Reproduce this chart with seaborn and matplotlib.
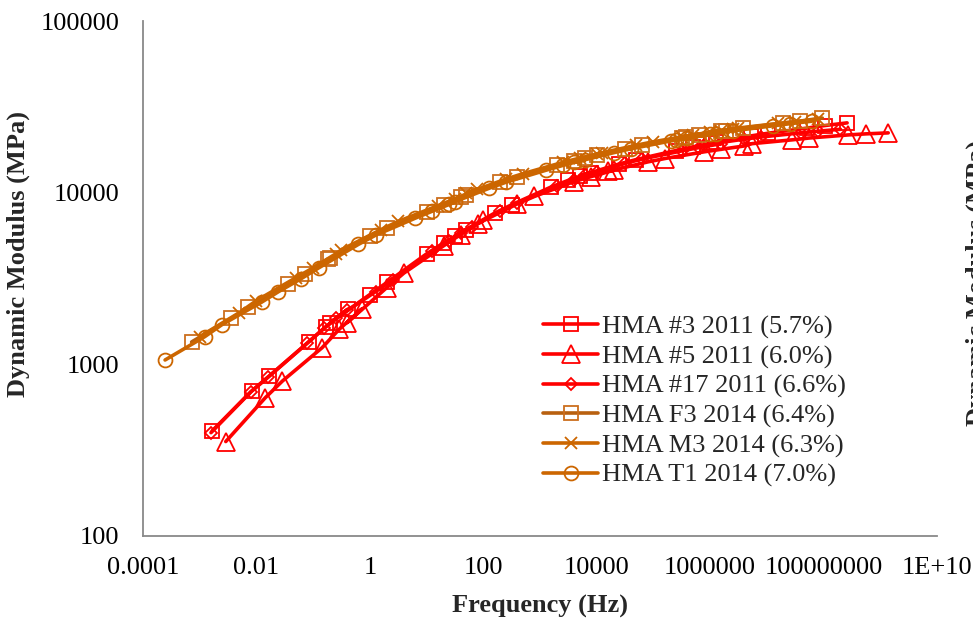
import numpy as np
import pandas as pd
import matplotlib
matplotlib.use("Agg")
import matplotlib.pyplot as plt
import seaborn as sns

# Reduced frequency (Hz) and dynamic modulus |E*| (MPa) for each mix
freq_hma3_2011 = [1.66e-3, 8.3e-3, 1.66e-2, 8.3e-2, 0.166, 0.415,
                  0.2, 1.0, 2.0, 10, 20, 50,
                  31.6, 158, 316, 1.58e3, 3.16e3, 7.9e3,
                  5.0e3, 2.5e4, 5.0e4, 2.5e5, 5.0e5, 1.25e6,
                  1.05e6, 5.2e6, 1.05e7, 5.2e7, 1.05e8, 2.6e8]
mod_hma3_2011 = [410, 700, 850, 1350, 1650, 2100,
                 1750, 2550, 3000, 4400, 5100, 6100,
                 5600, 7600, 8500, 10800, 11800, 13100,
                 12500, 14700, 15600, 17600, 18500, 19600,
                 19500, 21400, 22200, 23800, 24600, 25500]

freq_hma5_2011 = [2.88e-3, 1.44e-2, 2.88e-2, 0.144, 0.288, 0.72,
                  0.398, 1.99, 3.98, 19.9, 39.8, 99.5,
                  79.4, 397, 794, 3.97e3, 7.94e3, 1.985e4,
                  1.58e4, 7.9e4, 1.58e5, 7.9e5, 1.58e6, 3.96e6,
                  5.5e6, 2.75e7, 5.5e7, 2.75e8, 5.5e8, 1.38e9]
mod_hma5_2011 = [355, 640, 800, 1250, 1600, 2100,
                 1750, 2800, 3400, 4900, 5700, 6900,
                 6600, 8600, 9500, 11600, 12400, 13500,
                 13300, 15100, 15800, 17300, 17900, 18700,
                 19300, 20300, 20800, 21700, 22000, 22300]

freq_hma17_2011 = [1.58e-3, 7.9e-3, 1.58e-2, 7.9e-2, 0.158, 0.40,
                   0.251, 1.26, 2.51, 12.6, 25.1, 63,
                   39.8, 199, 398, 1.99e3, 3.98e3, 9.95e3,
                   6.3e3, 3.15e4, 6.3e4, 3.15e5, 6.3e5, 1.58e6,
                   7.9e5, 3.97e6, 7.9e6, 3.97e7, 7.9e7, 1.98e8]
mod_hma17_2011 = [400, 690, 840, 1330, 1630, 2080,
                  1850, 2650, 3100, 4550, 5250, 6300,
                  5850, 7800, 8700, 10900, 11900, 13200,
                  12600, 14800, 15700, 17500, 18300, 19300,
                  19000, 20500, 21100, 22300, 22800, 23400]

freq_f3_2014 = [7.2e-4, 3.6e-3, 7.2e-3, 3.6e-2, 7.2e-2, 0.18,
                0.2, 1.0, 2.0, 10, 20, 50,
                39.8, 199, 398, 1.99e3, 3.98e3, 9.95e3,
                6.3e3, 3.15e4, 6.3e4, 3.15e5, 6.3e5, 1.58e6,
                3.8e5, 1.9e6, 3.8e6, 1.9e7, 3.8e7, 9.5e7]
mod_f3_2014 = [1350, 1850, 2150, 2950, 3350, 4100,
               4150, 5600, 6200, 7700, 8500, 9700,
               9400, 11500, 12400, 14400, 15300, 16500,
               15900, 18000, 18900, 20900, 21700, 22800,
               21100, 23000, 23800, 25400, 26100, 27200]

freq_m3_2014 = [1.0e-3, 5.0e-3, 1.0e-2, 5.0e-2, 0.1, 0.25,
                0.316, 1.58, 3.16, 15.8, 31.6, 79,
                50, 250, 501, 2.5e3, 5.01e3, 1.25e4,
                1.0e4, 5.0e4, 1.0e5, 5.0e5, 1.0e6, 2.5e6,
                3.16e5, 1.58e6, 3.16e6, 1.58e7, 3.16e7, 7.9e7]
mod_m3_2014 = [1450, 2000, 2350, 3200, 3650, 4400,
               4650, 6100, 6800, 8400, 9200, 10500,
               9900, 12000, 12900, 15000, 15900, 17100,
               16800, 18900, 19800, 21700, 22500, 23500,
               21100, 23000, 23800, 25300, 25900, 26800]

freq_t1_2014 = [2.45e-4, 1.23e-3, 2.45e-3, 1.23e-2, 2.45e-2, 6.1e-2,
                0.126, 0.63, 1.26, 6.3, 12.6, 31.5,
                25.1, 126, 251, 1.26e3, 2.51e3, 6.3e3,
                3.98e3, 2.0e4, 3.98e4, 2.0e5, 3.98e5, 1.0e6,
                2.51e5, 1.26e6, 2.51e6, 1.26e7, 2.51e7, 6.3e7]
mod_t1_2014 = [1060, 1450, 1700, 2300, 2650, 3150,
               3650, 5000, 5650, 7100, 7800, 8800,
               8600, 10600, 11500, 13500, 14400, 15600,
               15000, 17100, 18000, 20000, 20800, 21900,
               20300, 22100, 22900, 24500, 25200, 26100]

series_labels = ["HMA #3 2011 (5.7%)", "HMA #5 2011 (6.0%)", "HMA #17 2011 (6.6%)",
                 "HMA F3 2014 (6.4%)", "HMA M3 2014 (6.3%)", "HMA T1 2014 (7.0%)"]

x_ticks = [1e-4, 1e-2, 1, 1e2, 1e4, 1e6, 1e8, 1e10]
x_tick_labels = ["0.0001", "0.01", "1", "100", "10000", "1000000", "100000000", "1E+10"]
y_ticks = [100, 1000, 10000, 100000]
y_tick_labels = ["100", "1000", "10000", "100000"]

sns.set_style("white")
plt.rcParams["font.family"] = ["Liberation Serif", "DejaVu Serif"]

fig = plt.figure(figsize=(9.73, 6.20), dpi=100)
ax = fig.add_axes([143 / 973, 1 - 536 / 620, (937 - 143) / 973, (536 - 21) / 620])

red = "#FF0000"
orange = "#CC6600"
styles = [
    dict(color=red, marker="s", markersize=10, mec=red),
    dict(color=red, marker="^", markersize=13, mec=red),
    dict(color=red, marker="D", markersize=6.5, mec=red),
    dict(color="#B8600F", marker="s", markersize=10, mec="#CC6E1E"),
    dict(color=orange, marker="x", markersize=9, mec=orange),
    dict(color=orange, marker="o", markersize=10, mec=orange),
]
datasets = [
    (freq_hma3_2011, mod_hma3_2011),
    (freq_hma5_2011, mod_hma5_2011),
    (freq_hma17_2011, mod_hma17_2011),
    (freq_f3_2014, mod_f3_2014),
    (freq_m3_2014, mod_m3_2014),
    (freq_t1_2014, mod_t1_2014),
]

for (f, e), label, st in zip(datasets, series_labels, styles):
    df = pd.DataFrame({"freq": f, "modulus": e})
    sns.lineplot(data=df, x="freq", y="modulus", ax=ax, sort=False,
                 estimator=None, errorbar=None, label=label,
                 color=st["color"], linewidth=2.6, marker=st["marker"],
                 markersize=st["markersize"], markerfacecolor="none",
                 markeredgecolor=st["mec"], markeredgewidth=1.3)

ax.set_xscale("log")
ax.set_yscale("log")
ax.set_xlim(1e-4, 1e10)
ax.set_ylim(100, 100000)
ax.xaxis.set_major_locator(matplotlib.ticker.FixedLocator(x_ticks))
ax.xaxis.set_minor_locator(matplotlib.ticker.NullLocator())
ax.yaxis.set_major_locator(matplotlib.ticker.FixedLocator(y_ticks))
ax.yaxis.set_minor_locator(matplotlib.ticker.NullLocator())
ax.set_xticklabels(x_tick_labels)
ax.set_yticklabels(y_tick_labels)

axis_grey = "#898989"
for side in ["top", "right"]:
    ax.spines[side].set_visible(False)
for side in ["left", "bottom"]:
    ax.spines[side].set_color(axis_grey)
    ax.spines[side].set_linewidth(1.3)
ax.tick_params(axis="both", which="major", direction="out", length=5,
               width=1.3, color=axis_grey, labelsize=19, labelcolor="black")
ax.tick_params(axis="y", pad=12)
ax.tick_params(axis="x", pad=10)
ax.grid(False)

ax.set_xlabel("Frequency (Hz)", fontsize=19, fontweight="bold")
ax.set_ylabel("Dynamic Modulus (MPa)", fontsize=19, fontweight="bold")
ax.xaxis.label.set_va("center")
ax.yaxis.label.set_va("center")
ax.xaxis.set_label_coords(0.5, (536 - 606) / 515)
ax.yaxis.set_label_coords((18 - 143) / 794, (536 - 254) / 515)

# y label of the neighbouring panel, cut by the figure edge
fig.text(966 / 973, 1 - 283 / 620, "Dynamic Modulus (MPa)", rotation=90,
         ha="left", va="center", fontsize=19, fontweight="bold")

leg = ax.legend(loc="upper left", bbox_to_anchor=(543 / 973, 1 - 315 / 620),
                bbox_transform=fig.transFigure, frameon=False, fontsize=19,
                handlelength=2.1, handletextpad=0.15, labelspacing=0.22,
                borderpad=0, borderaxespad=0)

fig.savefig("out.png", dpi=100, facecolor="white")
